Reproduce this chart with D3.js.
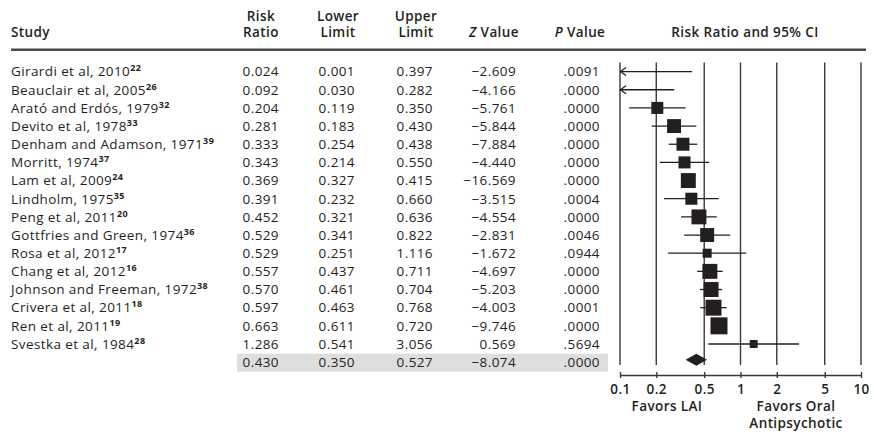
<!DOCTYPE html>
<html>
<head>
<meta charset="utf-8">
<script src="https://cdn.jsdelivr.net/npm/d3@7/dist/d3.min.js"></script>
<style>
  html, body { margin: 0; padding: 0; background: #fff; }
  svg { display: block; }
  text { font-family: "Open Sans", "Noto Sans", sans-serif; fill: #231f20; letter-spacing: 0.4px; }
</style>
</head>
<body>
<svg id="chart" width="874" height="432"></svg>
<script>
// Study-level results (risk ratio with 95% CI), last entry is the pooled estimate
const studies = [
  "Girardi et al, 2010", "Beauclair et al, 2005", "Arató and Erdós, 1979",
  "Devito et al, 1978", "Denham and Adamson, 1971", "Morritt, 1974",
  "Lam et al, 2009", "Lindholm, 1975", "Peng et al, 2011",
  "Gottfries and Green, 1974", "Rosa et al, 2012", "Chang et al, 2012",
  "Johnson and Freeman, 1972", "Crivera et al, 2011", "Ren et al, 2011",
  "Svestka et al, 1984"
];
const refs = ["22", "26", "32", "33", "39", "37", "24", "35", "20", "36", "17", "16", "38", "18", "19", "28"];
const riskRatio  = [0.024, 0.092, 0.204, 0.281, 0.333, 0.343, 0.369, 0.391, 0.452, 0.529, 0.529, 0.557, 0.570, 0.597, 0.663, 1.286];
const lowerLimit = [0.001, 0.030, 0.119, 0.183, 0.254, 0.214, 0.327, 0.232, 0.321, 0.341, 0.251, 0.437, 0.461, 0.463, 0.611, 0.541];
const upperLimit = [0.397, 0.282, 0.350, 0.430, 0.438, 0.550, 0.415, 0.660, 0.636, 0.822, 1.116, 0.711, 0.704, 0.768, 0.720, 3.056];
const zValue     = [-2.609, -4.166, -5.761, -5.844, -7.884, -4.440, -16.569, -3.515, -4.554, -2.831, -1.672, -4.697, -5.203, -4.003, -9.746, 0.569];
const pValue     = [0.0091, 0.0000, 0.0000, 0.0000, 0.0000, 0.0000, 0.0000, 0.0004, 0.0000, 0.0046, 0.0944, 0.0000, 0.0000, 0.0001, 0.0000, 0.5694];
// relative weights (%) setting the box sizes
const weight     = [0.6, 1.4, 5.5, 7.4, 6.4, 5.5, 8.5, 5.5, 8.5, 7.4, 3.1, 8.5, 8.5, 9.7, 11.0, 2.4];
const pooled = { rr: 0.430, lo: 0.350, hi: 0.527, z: -8.074, p: 0.0000 };
const axisTicks = [0.1, 0.2, 0.5, 1, 2, 5, 10];

const svg = d3.select("#chart");
const ink = "#231f20";

const rowY = d3.scaleLinear().domain([0, 16]).range([71.6, 71.6 + 16 * 18.16]);
const x = d3.scaleLog().domain([0.1, 10]).range([620, 861]);
const boxSize = d3.scaleSqrt().domain([0, 11]).range([0, 17]);

const f3 = d3.format(".3f");
const fp = v => d3.format(".4f")(v).replace(/^0/, "");

// column layout: right edges of numeric columns and header centres
const cols = [
  { h1: "Risk",  h2: "Ratio", c: 261, r: 279, key: "rr" },
  { h1: "Lower", h2: "Limit", c: 338, r: 355, key: "lo" },
  { h1: "Upper", h2: "Limit", c: 416, r: 433, key: "hi" },
  { h1: "",      h2: "Value", c: 494, r: 516, key: "z", ital: "Z" },
  { h1: "",      h2: "Value", c: 580, r: 600, key: "p", ital: "P" }
];

const fs = 13.5;

// summary row shading
svg.append("rect")
  .attr("x", 237).attr("y", rowY(16) - 8.5)
  .attr("width", 371).attr("height", 18)
  .attr("fill", "#dedede");

// header
const head = svg.append("g").attr("font-size", fs).attr("font-weight", 600);
head.append("text").attr("x", 11).attr("y", 37).text("Study");
cols.forEach(c => {
  if (c.h1) head.append("text").attr("x", c.c).attr("y", 20.5).attr("text-anchor", "middle").text(c.h1);
  const t = head.append("text").attr("x", c.c).attr("y", 37).attr("text-anchor", "middle");
  if (c.ital) t.append("tspan").attr("font-style", "italic").text(c.ital + " ");
  t.append("tspan").text(c.h2);
});
head.append("text").attr("x", 745).attr("y", 37).attr("text-anchor", "middle").text("Risk Ratio and 95% CI");

svg.append("line")
  .attr("x1", 11).attr("x2", 866).attr("y1", 49.8).attr("y2", 49.8)
  .attr("stroke", "#4a4a4a").attr("stroke-width", 2.6);

// table rows
const rows = studies.map((s, i) => ({
  name: s, ref: refs[i], rr: riskRatio[i], lo: lowerLimit[i], hi: upperLimit[i],
  z: zValue[i], p: pValue[i], w: weight[i], i
}));
const body = svg.append("g").attr("font-size", fs).attr("font-weight", 500);
rows.forEach(d => {
  const yb = rowY(d.i) + 4.8;
  const t = body.append("text").attr("x", 11).attr("y", yb);
  t.append("tspan").text(d.name);
  t.append("tspan").attr("font-size", 9).attr("font-weight", 700).attr("dy", -5).text(d.ref);
});
[...rows, { ...pooled, i: 16 }].forEach(d => {
  const yb = rowY(d.i) + 4.8;
  cols.forEach(c => {
    const v = d[c.key];
    body.append("text").attr("x", c.r).attr("y", yb).attr("text-anchor", "end")
      .text(c.key === "p" ? fp(v) : f3(v));
  });
});

// forest plot: reference lines at each tick
const plot = svg.append("g");
plot.selectAll("line.grid").data(axisTicks).join("line")
  .attr("class", "grid")
  .attr("x1", d => x(d)).attr("x2", d => x(d))
  .attr("y1", 62.5).attr("y2", 365)
  .attr("stroke", "#3a3a3a").attr("stroke-width", 1.4);

const [xmin, xmax] = x.domain();
rows.forEach(d => {
  const y = rowY(d.i);
  const lo = Math.max(d.lo, xmin), hi = Math.min(d.hi, xmax);
  plot.append("line")
    .attr("x1", x(lo)).attr("x2", x(hi)).attr("y1", y).attr("y2", y)
    .attr("stroke", ink).attr("stroke-width", 1.3);
  if (d.lo < xmin) {
    const x0 = x(xmin);
    plot.append("path")
      .attr("d", `M${x0 + 6},${y - 4}L${x0 + 0.5},${y}L${x0 + 6},${y + 4}`)
      .attr("fill", "none").attr("stroke", ink).attr("stroke-width", 1.2);
  }
  if (d.rr >= xmin) {
    const s = boxSize(d.w);
    plot.append("rect")
      .attr("x", x(d.rr) - s / 2).attr("y", y - s / 2)
      .attr("width", s).attr("height", s)
      .attr("fill", ink);
  }
});

// pooled estimate diamond
{
  const y = rowY(16) - 2.5, h = 6;
  plot.append("path")
    .attr("d", `M${x(pooled.lo)},${y}L${x(pooled.rr)},${y - h}L${x(pooled.hi)},${y}L${x(pooled.rr)},${y + h}Z`)
    .attr("fill", ink);
}

// log axis
const axisY = 375;
const ax = svg.append("g").attr("transform", `translate(0,${axisY})`)
  .call(d3.axisBottom(x).tickValues(axisTicks).tickFormat(d3.format("")).tickSizeOuter(0).tickSizeInner(3).tickPadding(10));
ax.select(".domain").attr("stroke", "#3a3a3a").attr("stroke-width", 1.4);
ax.selectAll(".tick line").attr("y1", -3).attr("y2", 3).attr("stroke", "#3a3a3a").attr("stroke-width", 1.4);
ax.selectAll(".tick text")
  .attr("font-family", "'Open Sans', 'Noto Sans', sans-serif")
  .attr("font-size", fs).attr("font-weight", 600).attr("fill", ink)
  .attr("dy", null).attr("y", 19);

const lab = svg.append("g").attr("font-size", fs).attr("font-weight", 600).attr("text-anchor", "middle");
lab.append("text").attr("x", 667).attr("y", 411).text("Favors LAI");
lab.append("text").attr("x", 796).attr("y", 411).text("Favors Oral");
lab.append("text").attr("x", 796).attr("y", 427.5).text("Antipsychotic");
</script>
</body>
</html>
